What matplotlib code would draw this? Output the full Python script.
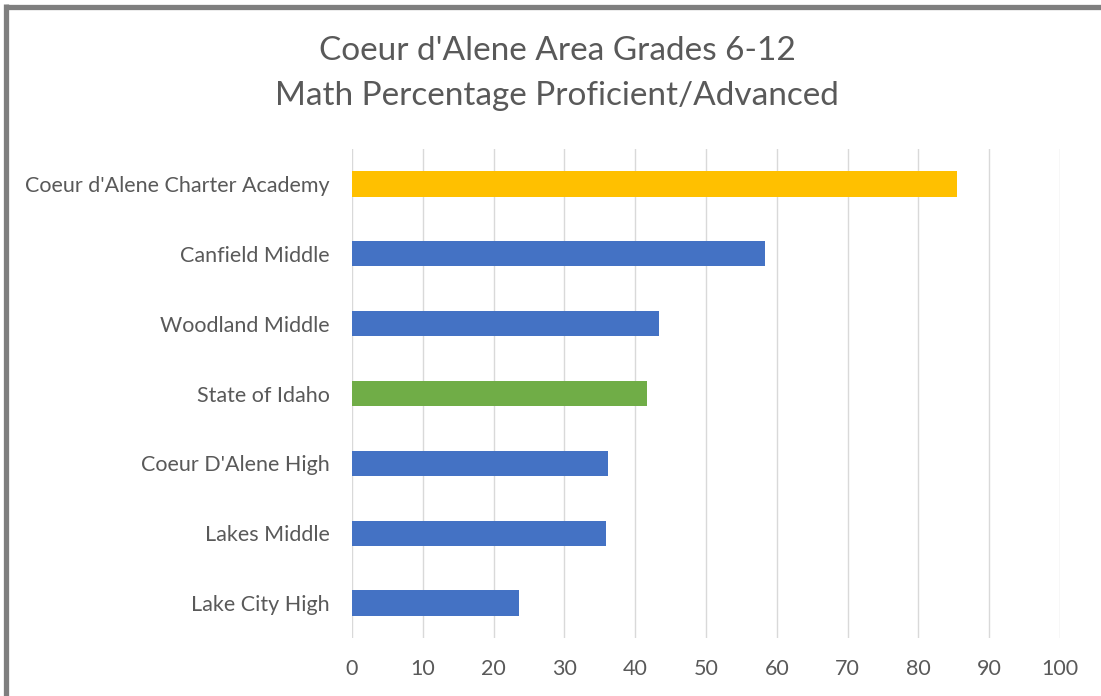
import matplotlib
matplotlib.use("Agg")
import matplotlib.pyplot as plt
from matplotlib.lines import Line2D

categories = ["Coeur d'Alene Charter Academy", "Canfield Middle", "Woodland Middle",
              "State of Idaho", "Coeur D'Alene High", "Lakes Middle", "Lake City High"]
values = [85.4, 58.4, 43.3, 41.7, 36.2, 35.9, 23.6]
colors = ["#FFC000", "#4472C4", "#4472C4", "#70AD47", "#4472C4", "#4472C4", "#4472C4"]
xticks = [0, 10, 20, 30, 40, 50, 60, 70, 80, 90, 100]
title_lines = ["Coeur d'Alene Area Grades 6-12", "Math Percentage Proficient/Advanced"]

plt.rcParams['font.family'] = ['Lato', 'DejaVu Sans']
W, H = 1101, 696
fig = plt.figure(figsize=(W / 100, H / 100), dpi=100)
fig.patch.set_facecolor("white")

ax = fig.add_axes([352 / W, 1 - 638 / H, (1060 - 352) / W, (638 - 149) / H])
ypos = list(range(len(categories)))[::-1]
ax.barh(ypos, values, height=0.36, color=colors, zorder=3)
ax.set_xlim(0, 100)
ax.set_ylim(-0.5, len(categories) - 0.5)
ax.set_xticks(xticks)
ax.set_xticklabels([str(t) for t in xticks])
ax.set_yticks(ypos)
ax.set_yticklabels(categories)
ax.grid(axis="x", color="#d9d9d9", linewidth=1.0, zorder=0)
ax.set_axisbelow(True)
for s in ax.spines.values():
    s.set_visible(False)
ax.tick_params(axis="both", length=0, colors="#595959", labelsize=15.5)
ax.tick_params(axis="x", pad=15)
ax.tick_params(axis="y", pad=16)

fig.text(557 / W, 1 - 51 / H, title_lines[0], ha="center", va="center", fontsize=24, color="#595959")
fig.text(557 / W, 1 - 96 / H, title_lines[1], ha="center", va="center", fontsize=24, color="#595959")

# outer frame (top and left edges visible)
fig.add_artist(Line2D([6.5 / W, 1.0], [1 - 6.5 / H, 1 - 6.5 / H], transform=fig.transFigure,
                      color="#7f7f7f", linewidth=3.8, solid_capstyle="butt"))
fig.add_artist(Line2D([6.5 / W, 6.5 / W], [0, 1 - 4 / H], transform=fig.transFigure,
                      color="#7f7f7f", linewidth=3.8, solid_capstyle="butt"))

fig.savefig("out.png", dpi=100)
